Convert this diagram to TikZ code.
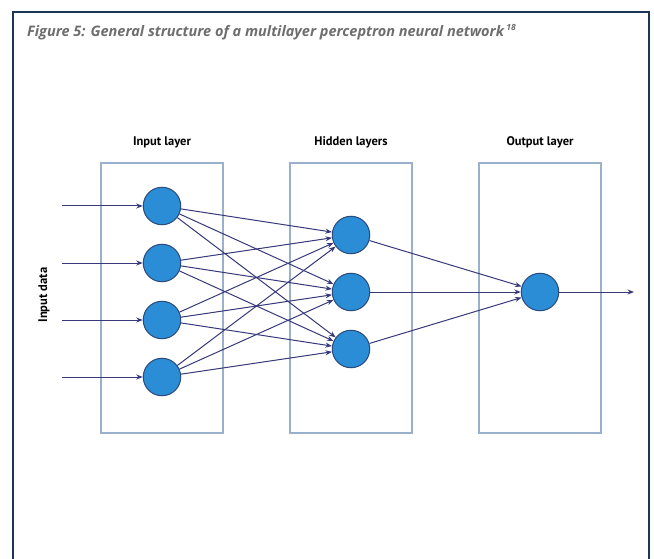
\documentclass[tikz,border=0pt]{standalone}
\usepackage{fontspec}
\setmainfont{PT Sans}
\newfontfamily\captionfont{Open Sans}
\usetikzlibrary{arrows.meta}
\definecolor{framenavy}{HTML}{1C3557}
\definecolor{layerline}{HTML}{9AB0CD}
\definecolor{neuronfill}{HTML}{2B8DD6}
\definecolor{neuronline}{HTML}{2A4B7C}
\definecolor{wirecol}{HTML}{38397A}
\definecolor{titlegray}{HTML}{6E6E70}
\begin{document}
\begin{tikzpicture}[x=1pt,y=-1pt,
  neuron/.style={circle, draw=neuronline, fill=neuronfill, line width=1pt,
                 minimum size=37.5pt, inner sep=0pt},
  layerbox/.style={draw=layerline, line width=1.4pt, minimum width=122pt,
                   minimum height=270pt, inner sep=0pt},
  wire/.style={draw=wirecol, line width=1pt, -{Stealth[length=6.5pt,width=5pt]}},
  layerlabel/.style={font=\bfseries\fontsize{12.5}{14}\selectfont},
]
\useasboundingbox (0,0) rectangle (654,559);
\fill[white] (0,0) rectangle (654,559);
% outer frame, open at the bottom
\draw[framenavy, line width=1.8pt] (13,560) -- (13,12) -- (649,12) -- (649,560);

% caption
\node[anchor=base west, text=titlegray, inner sep=0pt,
      font=\captionfont\bfseries\itshape\fontsize{14.5}{17}\selectfont] (title) at (27,37)
  {Figure 5: General structure of a multilayer perceptron neural network\,\raisebox{0.45em}{\fontsize{8.5}{9}\selectfont 18}};

% layer frames
\node[layerbox] (inbox)  at (162,298) {};
\node[layerbox] (hidbox) at (351,298) {};
\node[layerbox] (outbox) at (540,298) {};

\node[layerlabel] (inlab)  at (162,142) {Input layer};
\node[layerlabel] (hidlab) at (351,142) {Hidden layers};
\node[layerlabel] (outlab) at (540,142) {Output layer};

\node[layerlabel, rotate=90] (datalab) at (44,295) {Input data};

% neurons
\foreach \i/\y in {1/206,2/263,3/320,4/377}
  \node[neuron] (i\i) at (162,\y) {};
\foreach \j/\y in {1/235,2/292,3/349}
  \node[neuron] (h\j) at (351,\y) {};
\node[neuron] (o1) at (540,292) {};

% input feeds
\foreach \i/\y in {1/206,2/263,3/320,4/377}{
  \coordinate (s\i) at (62,\y);
  \draw[wire] (s\i) -- (i\i);
}

% weights
\foreach \i in {1,...,4}
  \foreach \j in {1,2,3}
    \draw[wire] (i\i) -- (h\j);
\foreach \j in {1,2,3}
  \draw[wire] (h\j) -- (o1);

% network output
\coordinate (res) at (634,292);
\draw[wire] (o1) -- (res);
\end{tikzpicture}
\end{document}
